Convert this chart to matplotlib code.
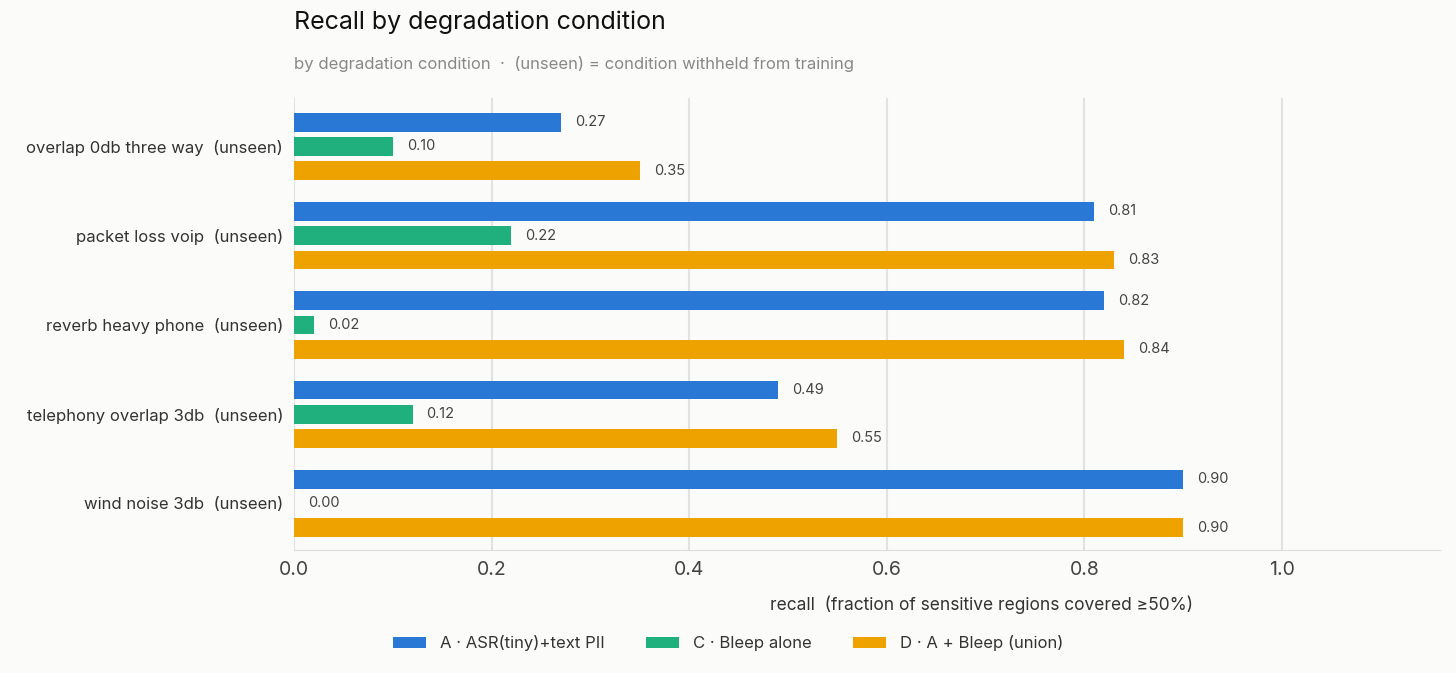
import numpy as np
import matplotlib
matplotlib.use("Agg")
import matplotlib.pyplot as plt

plt.rcParams["font.family"] = ["Inter", "DejaVu Sans"]

CONDITIONS = [
    "overlap 0db three way  (unseen)",
    "packet loss voip  (unseen)",
    "reverb heavy phone  (unseen)",
    "telephony overlap 3db  (unseen)",
    "wind noise 3db  (unseen)",
]
SERIES = ["A · ASR(tiny)+text PII", "C · Bleep alone", "D · A + Bleep (union)"]
RECALL_A = [0.27, 0.81, 0.82, 0.49, 0.90]
RECALL_C = [0.10, 0.22, 0.02, 0.12, 0.00]
RECALL_D = [0.35, 0.83, 0.84, 0.55, 0.90]
COLORS = ["#2a78d6", "#1fb07d", "#eda200"]

BG = "#fbfbf9"
fig = plt.figure(figsize=(14.56, 6.73), dpi=100, facecolor=BG)
ax = fig.add_axes([0.202, 0.183, 0.787, 0.671], facecolor=BG)

y = np.arange(len(CONDITIONS))
h = 0.21
off = 0.272
for i, (vals, col, name) in enumerate(zip([RECALL_A, RECALL_C, RECALL_D], COLORS, SERIES)):
    yy = y + (i - 1) * off
    ax.barh(yy, vals, height=h, color=col, label=name, zorder=3)
    for yi, v in zip(yy, vals):
        ax.text(v + 0.014, yi, f"{v:.2f}", va="center", ha="left",
                fontsize=10.5, color="#444444")

ax.set_ylim(len(CONDITIONS) - 0.5 + 0.02, -0.5 - 0.04)
ax.set_xlim(0, 1.16)
ax.set_yticks(y, CONDITIONS)
ax.set_xticks([0, 0.2, 0.4, 0.6, 0.8, 1.0])
ax.set_xticklabels(["0.0", "0.2", "0.4", "0.6", "0.8", "1.0"])
ax.tick_params(axis="x", labelsize=14, colors="#444444", length=0, pad=8)
ax.tick_params(axis="y", labelsize=12, colors="#333333", length=0, pad=8)
ax.grid(axis="x", color="#e2e2e2", linewidth=1.5, zorder=0)
for s in ["top", "right", "left"]:
    ax.spines[s].set_visible(False)
ax.spines["bottom"].set_color("#dddddd")
ax.set_xlabel("recall  (fraction of sensitive regions covered ≥50%)",
              fontsize=12.5, color="#333333", labelpad=12, x=0.6)

fig.text(0.202, 0.95, "Recall by degradation condition", fontsize=18,
         color="#111111", va="bottom")
fig.text(0.202, 0.893, "by degradation condition  ·  (unseen) = condition withheld from training",
         fontsize=12, color="#888888", va="bottom")

fig.legend(loc="lower center", bbox_to_anchor=(0.5, 0.01), ncol=3, frameon=False,
           fontsize=12, handlelength=2.0, handleheight=0.7, columnspacing=2.5,
           labelcolor="#333333")

fig.savefig("out.png", dpi=100, facecolor=BG)
